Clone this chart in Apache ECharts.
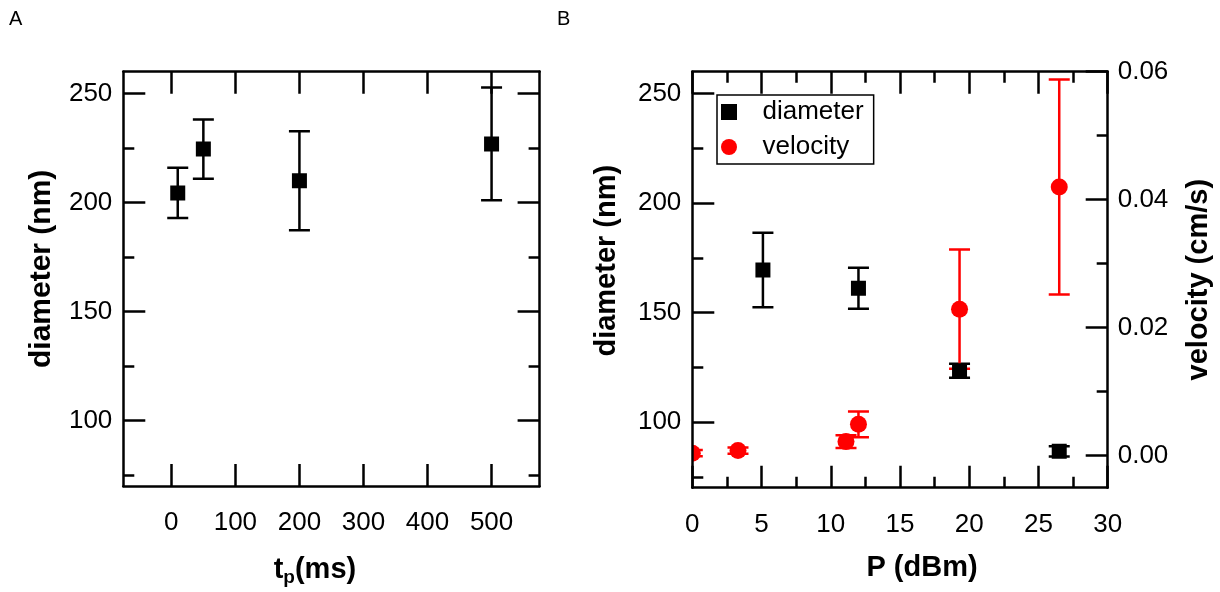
<!DOCTYPE html>
<html><head><meta charset="utf-8">
<script src="https://cdn.jsdelivr.net/npm/echarts@6/dist/echarts.min.js"></script>
<style>html,body{margin:0;padding:0;background:#fff}#c{width:1220px;height:592px}</style>
</head><body><div id="c"></div>
<script>
// ---------- data ----------
const tpMs = [10, 50, 200, 500];
const diameterA = [204.4, 224.5, 210.0, 226.9];
const diameterAErr = [11.5, 13.6, 22.7, 25.8];

const powerDiameter = [5.1, 12, 19.3, 26.5];
const diameterB = [169.4, 161.1, 123.4, 86.6];
const diameterBErr = [17, 9.4, 3.2, 2.3];

const powerVelocity = [0, 3.3, 11.1, 12, 19.3, 26.5];
const velocity = [0.0004, 0.0008, 0.0022, 0.0049, 0.0229, 0.0420];
const velocityErr = [0.0005, 0.0005, 0.0010, 0.0020, 0.0093, 0.0168];

const tpTicks = [0, 100, 200, 300, 400, 500];
const diameterTicks = [100, 150, 200, 250];
const diameterMinorTicks = [75, 125, 175, 225];
const powerTicks = [0, 5, 10, 15, 20, 25, 30];
const powerMinorTicks = [2.5, 7.5, 12.5, 17.5, 22.5, 27.5];
const velocityTicks = [0, 0.02, 0.04, 0.06];
const velocityMinorTicks = [0.01, 0.03, 0.05];

// ---------- style helpers ----------
const FONT = '"Liberation Sans", Arial, sans-serif';
const LW = 2.5;
const MAJOR = 22, MINOR = 11;

function axis(o) {
  return {
    type: 'value',
    gridIndex: o.grid,
    position: o.pos,
    min: o.min, max: o.max,
    axisLine: { show: o.line !== false, onZero: false, lineStyle: { color: '#000', width: LW } },
    splitLine: { show: false },
    axisTick: { show: true, inside: true, length: o.len || MAJOR, customValues: o.ticks,
                lineStyle: { color: '#000', width: LW } },
    axisLabel: o.labels ? { show: true, customValues: o.ticks, color: '#000', fontSize: 26,
                fontFamily: FONT, margin: o.margin, formatter: o.fmt } : { show: false },
    name: o.name || '',
    nameLocation: 'middle',
    nameGap: o.nameGap,
    nameRotate: o.nameRotate,
    nameTextStyle: o.nameStyle,
    z: 10
  };
}

function errSeries(name, xi, yi, xs, ys, es, color, capW) {
  return {
    type: 'custom', name: name, xAxisIndex: xi, yAxisIndex: yi, clip: true, z: 3,
    data: xs.map((x, i) => [x, ys[i] - es[i], ys[i] + es[i]]),
    encode: { x: 0, y: [1, 2] },
    renderItem: function (params, api) {
      const x = api.value(0), lo = api.value(1), hi = api.value(2);
      const p1 = api.coord([x, hi]), p2 = api.coord([x, lo]);
      const w = capW / 2;
      const st = { stroke: color, lineWidth: LW };
      return { type: 'group', children: [
        { type: 'line', shape: { x1: p1[0], y1: p1[1], x2: p2[0], y2: p2[1] }, style: st },
        { type: 'line', shape: { x1: p1[0] - w, y1: p1[1], x2: p1[0] + w, y2: p1[1] }, style: st },
        { type: 'line', shape: { x1: p2[0] - w, y1: p2[1], x2: p2[0] + w, y2: p2[1] }, style: st }
      ]};
    }
  };
}

// marker series drawn through the axes and clipped to the plot box
function markerSeries(name, xi, yi, xs, ys, color, kind, size) {
  return {
    type: 'custom', name: name, xAxisIndex: xi, yAxisIndex: yi, clip: true, z: 5,
    itemStyle: { color: color },
    data: xs.map((x, i) => [x, ys[i]]),
    encode: { x: 0, y: 1 },
    renderItem: function (params, api) {
      const p = api.coord([api.value(0), api.value(1)]);
      if (kind === 'circle') {
        return { type: 'circle', shape: { cx: p[0], cy: p[1], r: size / 2 }, style: { fill: color } };
      }
      return { type: 'rect', shape: { x: p[0] - size / 2, y: p[1] - size / 2, width: size, height: size },
               style: { fill: color } };
    }
  };
}

const titleStyle = (size, pad) => ({ color: '#000', fontSize: size, fontWeight: 'bold', fontFamily: FONT, padding: pad });

const option = {
  backgroundColor: '#fff',
  animation: false,
  grid: [
    { left: 123.3, top: 71.7, width: 416.3, height: 416 },
    { left: 692.3, top: 71.7, width: 415.4, height: 416 }
  ],
  xAxis: [
    axis({ grid: 0, pos: 'bottom', min: -75, max: 575, ticks: tpTicks, labels: true, margin: 24, nameGap: 66,
      name: '{b|t}{s|p}{b|(ms)}', nameStyle: Object.assign(titleStyle(29, [0, 33, 0, 0]), {
        rich: { b: { fontSize: 29, fontWeight: 'bold', fontFamily: FONT, color: '#000' },
                s: { fontSize: 19, fontWeight: 'bold', fontFamily: FONT, color: '#000', padding: [16, 0, 0, 0] } } }) }),
    axis({ grid: 0, pos: 'top', min: -75, max: 575, ticks: tpTicks }),
    axis({ grid: 1, pos: 'bottom', min: 0, max: 30, ticks: powerTicks, labels: true, margin: 24, nameGap: 66,
      name: 'P (dBm)', nameStyle: titleStyle(29, [0, 0, 0, 44]) }),
    axis({ grid: 1, pos: 'bottom', min: 0, max: 30, ticks: powerMinorTicks, len: MINOR, line: false }),
    axis({ grid: 1, pos: 'top', min: 0, max: 30, ticks: powerTicks }),
    axis({ grid: 1, pos: 'top', min: 0, max: 30, ticks: powerMinorTicks, len: MINOR, line: false })
  ],
  yAxis: [
    axis({ grid: 0, pos: 'left', min: 70, max: 260, ticks: diameterTicks, labels: true, margin: 11,
      name: 'diameter (nm)', nameGap: 67, nameRotate: 90, nameStyle: titleStyle(30, [0, 0, 0, 20]) }),
    axis({ grid: 0, pos: 'left', min: 70, max: 260, ticks: diameterMinorTicks, len: MINOR, line: false }),
    axis({ grid: 0, pos: 'right', min: 70, max: 260, ticks: diameterTicks }),
    axis({ grid: 0, pos: 'right', min: 70, max: 260, ticks: diameterMinorTicks, len: MINOR, line: false }),
    axis({ grid: 1, pos: 'left', min: 70, max: 260, ticks: diameterTicks, labels: true, margin: 11,
      name: 'diameter (nm)', nameGap: 71, nameRotate: 90, nameStyle: titleStyle(29, [0, 0, 0, 38]) }),
    axis({ grid: 1, pos: 'left', min: 70, max: 260, ticks: diameterMinorTicks, len: MINOR, line: false }),
    axis({ grid: 1, pos: 'right', min: -0.005, max: 0.06, ticks: velocityTicks, labels: true, margin: 10,
      fmt: v => Number(v).toFixed(2),
      name: 'velocity (cm/s)', nameGap: 77, nameRotate: 90, nameStyle: titleStyle(29, [0, 0, 0, 0]) }),
    axis({ grid: 1, pos: 'right', min: -0.005, max: 0.06, ticks: velocityMinorTicks, len: MINOR, line: false })
  ],
  legend: {
    orient: 'vertical', left: 717, top: 95,
    padding: [4, 10, 4, 4], itemWidth: 57, itemHeight: 16, itemGap: 9,
    borderColor: '#000', borderWidth: 1.5, backgroundColor: '#fff',
    selectedMode: false, symbolKeepAspect: true,
    textStyle: { fontSize: 26, color: '#000', fontFamily: FONT },
    data: [
      { name: 'diameter', icon: 'path://M0,0H10V10H0Z', itemStyle: { color: '#000', opacity: 1 } },
      { name: 'velocity', icon: 'circle', itemStyle: { color: '#ff0000', opacity: 1 } }
    ]
  },
  graphic: [
    { type: 'text', left: 9, top: 9, style: { text: 'A', fontSize: 20, fontFamily: FONT, fill: '#000' } },
    { type: 'text', left: 557, top: 9, style: { text: 'B', fontSize: 20, fontFamily: FONT, fill: '#000' } }
  ],
  series: [
    errSeries('diameter A err', 0, 0, tpMs, diameterA, diameterAErr, '#000', 21),
    markerSeries('diameter A', 0, 0, tpMs, diameterA, '#000', 'rect', 15),
    errSeries('diameter err', 2, 4, powerDiameter, diameterB, diameterBErr, '#000', 21),
    markerSeries('diameter', 2, 4, powerDiameter, diameterB, '#000', 'rect', 15),
    errSeries('velocity err', 2, 6, powerVelocity, velocity, velocityErr, '#ff0000', 21),
    markerSeries('velocity', 2, 6, powerVelocity, velocity, '#ff0000', 'circle', 17)
  ]
};

echarts.init(document.getElementById('c'), null, { renderer: 'canvas' }).setOption(option);
</script>
</body></html>
